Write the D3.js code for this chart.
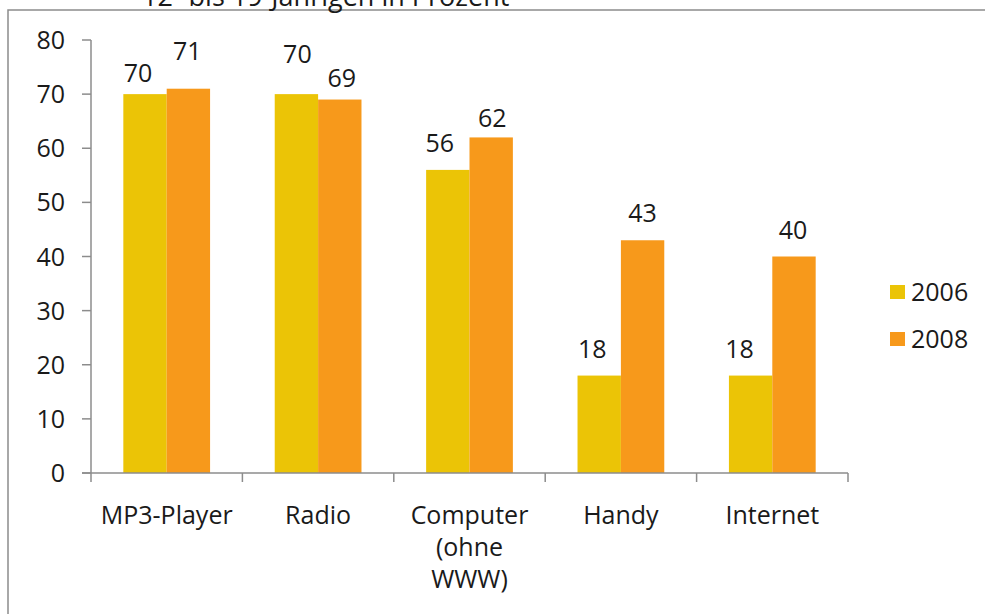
<!DOCTYPE html>
<html>
<head>
<meta charset="utf-8">
<script src="https://cdn.jsdelivr.net/npm/d3@7"></script>
<style>
  body { margin: 0; background: #fff; }
  svg { display: block; font-family: "Open Sans", "Noto Sans", sans-serif; }
</style>
</head>
<body>
<div id="chart"></div>
<script>
// Daten
const categories = [["MP3-Player"], ["Radio"], ["Computer", "(ohne", "WWW)"], ["Handy"], ["Internet"]];
const years = ["2006", "2008"];
const values2006 = [70, 70, 56, 18, 18];
const values2008 = [71, 69, 62, 43, 40];
const yTicks = [0, 10, 20, 30, 40, 50, 60, 70, 80];
const colors = ["#EBC406", "#F7991B"];
// kleine Verschiebungen der Beschriftungen wie im Original [dx, dy]
const nudge2006 = [[-7, 6], [1, -13], [-8, 0], [-7, 0], [-11, 0]];
const nudge2008 = [[-1, -11], [2, 5], [1, 8], [0, 0], [-1, 0]];

const width = 985, height = 614;
const x0 = 91, x1 = 848, yBottom = 473, yTop = 40;
const fontSize = '25px';

const svg = d3.select('#chart')
  .append('svg')
  .attr('width', width)
  .attr('height', height);

// Rahmen
svg.append('rect')
  .attr('x', 8).attr('y', 10)
  .attr('width', 1000).attr('height', 700)
  .attr('fill', 'none')
  .attr('stroke', '#8c8c8c')
  .attr('stroke-width', 1.5);

// Titel (im Original oben abgeschnitten)
svg.append('text')
  .attr('x', 142).attr('y', 6)
  .attr('font-size', '27px')
  .attr('fill', '#1a1a1a')
  .text('12- bis 19-Jährigen in Prozent');

const x = d3.scaleBand()
  .domain(d3.range(categories.length))
  .range([x0, x1])
  .paddingInner(0.427)
  .paddingOuter(0.2135);

const xSub = d3.scaleBand()
  .domain(years)
  .range([0, x.bandwidth()]);

const y = d3.scaleLinear()
  .domain([0, 80])
  .range([yBottom, yTop]);

const series = [values2006, values2008];
const nudges = [nudge2006, nudge2008];

// Balken
years.forEach((yr, s) => {
  svg.append('g')
    .selectAll('rect')
    .data(series[s])
    .join('rect')
    .attr('x', (d, i) => x(i) + xSub(yr))
    .attr('y', d => y(d))
    .attr('width', xSub.bandwidth())
    .attr('height', d => y(0) - y(d))
    .attr('fill', colors[s]);

  svg.append('g')
    .selectAll('text')
    .data(series[s])
    .join('text')
    .attr('x', (d, i) => x(i) + xSub(yr) + xSub.bandwidth() / 2 + nudges[s][i][0])
    .attr('y', (d, i) => y(d) - 18 + nudges[s][i][1])
    .attr('text-anchor', 'middle')
    .attr('font-size', fontSize)
    .attr('fill', '#1a1a1a')
    .text(d => d);
});

// Y-Achse
const axisColor = '#8c8c8c';
svg.append('line')
  .attr('x1', x0).attr('x2', x0)
  .attr('y1', y(80)).attr('y2', y(0))
  .attr('stroke', axisColor).attr('stroke-width', 1.5);

yTicks.forEach(t => {
  svg.append('line')
    .attr('x1', x0 - 9).attr('x2', x0)
    .attr('y1', y(t)).attr('y2', y(t))
    .attr('stroke', axisColor).attr('stroke-width', 1.5);
  svg.append('text')
    .attr('x', 65).attr('y', y(t))
    .attr('dy', '0.36em')
    .attr('text-anchor', 'end')
    .attr('font-size', fontSize)
    .attr('fill', '#1a1a1a')
    .text(t);
});

// X-Achse
svg.append('line')
  .attr('x1', x0 - 9).attr('x2', x1)
  .attr('y1', y(0)).attr('y2', y(0))
  .attr('stroke', axisColor).attr('stroke-width', 1.5);

const step = x.step();
d3.range(categories.length + 1).forEach(i => {
  const xt = x0 + i * step;
  svg.append('line')
    .attr('x1', xt).attr('x2', xt)
    .attr('y1', y(0)).attr('y2', y(0) + 9)
    .attr('stroke', axisColor).attr('stroke-width', 1.5);
});

categories.forEach((lines, i) => {
  const t = svg.append('text')
    .attr('text-anchor', 'middle')
    .attr('font-size', fontSize)
    .attr('fill', '#1a1a1a');
  lines.forEach((ln, j) => {
    t.append('tspan')
      .attr('x', x(i) + x.bandwidth() / 2)
      .attr('y', 524 + j * 32)
      .text(ln);
  });
});

// Legende
years.forEach((yr, s) => {
  const ly = 292 + s * 47;
  svg.append('rect')
    .attr('x', 890).attr('y', ly - 7)
    .attr('width', 15).attr('height', 14)
    .attr('fill', colors[s]);
  svg.append('text')
    .attr('x', 911).attr('y', ly)
    .attr('dy', '0.36em')
    .attr('font-size', fontSize)
    .attr('fill', '#1a1a1a')
    .text(yr);
});
</script>
</body>
</html>
